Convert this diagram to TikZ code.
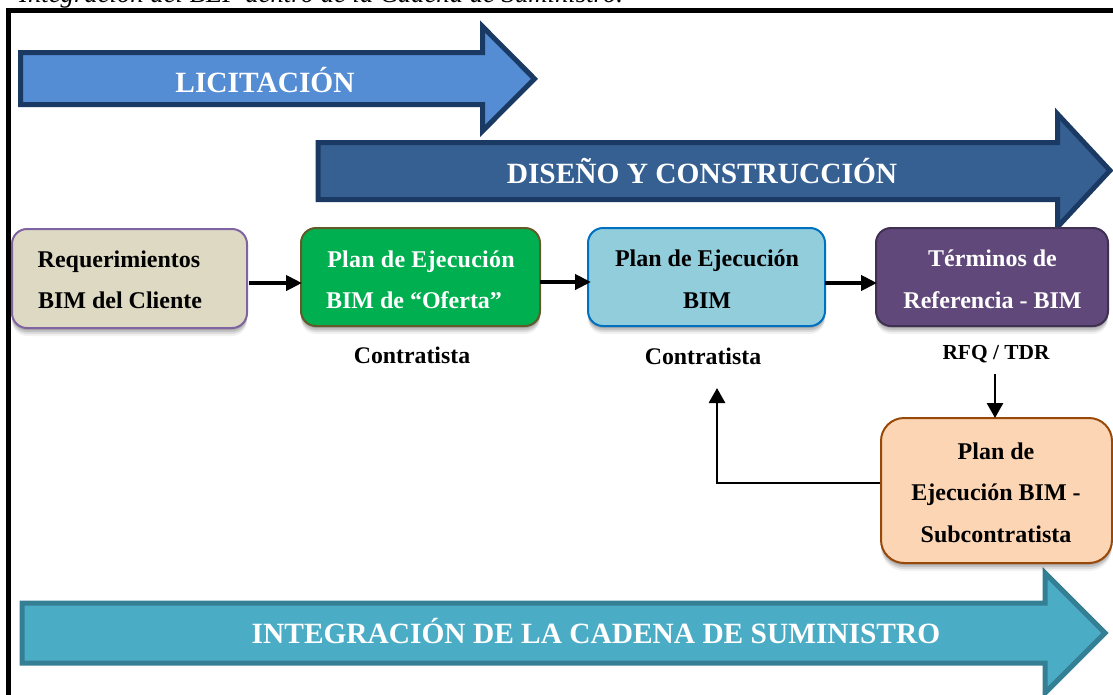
\documentclass[tikz,border=0pt]{standalone}
\usepackage{fontspec}
\setmainfont{Liberation Serif}
\usetikzlibrary{arrows.meta,shadows,positioning}
\definecolor{licf}{HTML}{548DD4}
\definecolor{dkline}{HTML}{1B3A63}
\definecolor{disf}{HTML}{366092}
\definecolor{intf}{HTML}{4BACC6}
\definecolor{intl}{HTML}{357F94}
\tikzset{
  x=1pt,y=-1pt,
  softshadow/.style={
    general shadow={shadow xshift=0pt,shadow yshift=-2pt,fill=black,opacity=.13},
    general shadow={shadow xshift=0pt,shadow yshift=-4pt,fill=black,opacity=.12},
    general shadow={shadow xshift=0pt,shadow yshift=-6pt,fill=black,opacity=.09},
    general shadow={shadow xshift=0pt,shadow yshift=-8pt,fill=black,opacity=.05}},
  bigarrow/.style={line width=5pt,miter limit=10,line join=miter},
  bigtext/.style={font=\bfseries\fontsize{29.4}{29.4}\selectfont,text=white,anchor=base,inner sep=0pt},
  boxtext/.style={font=\bfseries\fontsize{24}{24}\selectfont,anchor=base,inner sep=0pt},
  smalltext/.style={font=\bfseries\fontsize{23.8}{23.8}\selectfont,anchor=base,inner sep=0pt},
  procbox/.style={rounded corners=15pt,line width=2pt,softshadow},
  conn/.style={line width=4pt,-{Triangle[length=16pt,width=15pt]}},
  connthin/.style={line width=2.8pt,-{Triangle[length=15pt,width=16pt]}},
}
\begin{document}
\begin{tikzpicture}
\useasboundingbox (0,0) rectangle (1113,694);
\begin{scope}
\clip (0,0) rectangle (1113,694);
\node[font=\itshape\fontsize{26.7}{26.7}\selectfont,anchor=base west,inner sep=0pt] (cap) at (19,2) {Integración del BEP dentro de la Cadena de Suministro.};
\draw[line width=5pt] (1118,10.5) -- (8.5,10.5) -- (8.5,700);
% arrows
\draw[bigarrow,draw=dkline,fill=licf] (20.5,52.5) -- (482.5,52.5) -- (482.5,26.5) -- (534.5,78.8) -- (482.5,131) -- (482.5,104.5) -- (20.5,104.5) -- cycle;
\draw[bigarrow,draw=dkline,fill=disf] (318,142.5) -- (1057.5,142.5) -- (1057.5,114) -- (1110,170.5) -- (1057.5,227) -- (1057.5,199.5) -- (318,199.5) -- cycle;
\draw[bigarrow,draw=intl,fill=intf] (22,603) -- (1045,603) -- (1045,573) -- (1105,633) -- (1045,693) -- (1045,663) -- (22,663) -- cycle;
\end{scope}
\node[bigtext] (lic) at (265,92) {LICITACIÓN};
\node[bigtext] (dis) at (702,183) {DISEÑO Y CONSTRUCCIÓN};
\node[bigtext] (int) at (596,643) {INTEGRACIÓN DE LA CADENA DE SUMINISTRO};
% boxes
\path[procbox,draw={rgb,255:red,128;green,100;blue,162},fill={rgb,255:red,221;green,217;blue,195}] (12,229) rectangle (247,328);
\coordinate (r1) at (249,283);
\path[procbox,draw={rgb,255:red,98;green,90;blue,40},fill={rgb,255:red,0;green,176;blue,80}] (301,228) rectangle (540,326);
\coordinate (l2) at (302,283);
\coordinate (r2) at (540,282);
\path[procbox,draw={rgb,255:red,0;green,112;blue,192},fill={rgb,255:red,146;green,205;blue,220}] (588,228) rectangle (825,326);
\coordinate (l3) at (591,282);
\coordinate (r3) at (825,283);
\path[procbox,draw={rgb,255:red,64;green,49;blue,82},fill={rgb,255:red,96;green,73;blue,122}] (876,228) rectangle (1108,326);
\coordinate (l4) at (877,283);
\path[procbox,rounded corners=23pt,draw={rgb,255:red,152;green,72;blue,7},fill={rgb,255:red,252;green,213;blue,180}] (881,418) rectangle (1112,563);
\coordinate (t5) at (995,418);
\coordinate (l5) at (880,483);
% texts
\node[boxtext] (a1) at (119,267) {Requerimientos};
\node[boxtext] (a2) at (120,308) {BIM del Cliente};
\node[boxtext,text=white] (b1) at (421,267) {\addfontfeature{LetterSpace=1.0}Plan de Ejecución};
\node[boxtext,text=white] (b2) at (414,308) {BIM de “Oferta”};
\node[boxtext] (c1) at (707,266) {Plan de Ejecución};
\node[boxtext] (c2) at (707,308) {BIM};
\node[boxtext,text=white] (d1) at (992.5,266) {Términos de};
\node[boxtext,text=white] (d2) at (992.5,308) {Referencia - BIM};
\node[boxtext] (e1) at (996,459) {Plan de};
\node[boxtext] (e2) at (996,500) {Ejecución BIM -};
\node[boxtext] (e3) at (996,542) {Subcontratista};
\node[smalltext] (f1) at (412,363) {Contratista};
\node[smalltext] (f2) at (703,364) {Contratista};
\node[boxtext,font=\bfseries\fontsize{21.4}{21.4}\selectfont] (f3) at (996,359) {RFQ / TDR};
\coordinate (d3) at (995,374);
\coordinate (u3) at (717,388);
% connectors
\draw[conn] (r1) -- (l2);
\draw[conn] (r2) -- (l3);
\draw[conn] (r3) -- (l4);
\draw[connthin] (d3) -- (t5);
\draw[connthin] (l5) -- (717,483) -- (u3);
\end{tikzpicture}
\end{document}
